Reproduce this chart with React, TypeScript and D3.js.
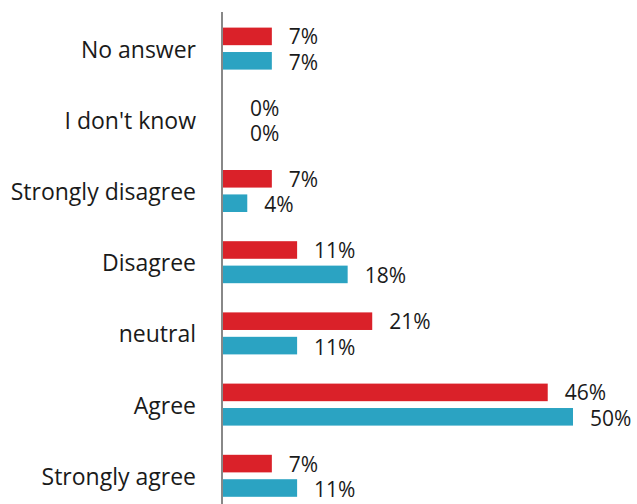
import React from "react";
import * as d3 from "d3";

const categories = ["No answer", "I don't know", "Strongly disagree", "Disagree", "neutral", "Agree", "Strongly agree"];
const seriesRed = [7.1, 0, 7.1, 10.7, 21.4, 46.4, 7.1];
const seriesBlue = [7.1, 0, 3.6, 17.9, 10.7, 50, 10.7];
const labelsRed = ["7%", "0%", "7%", "11%", "21%", "46%", "7%"];
const labelsBlue = ["7%", "0%", "4%", "18%", "11%", "50%", "11%"];

const W = 637;
const H = 504;
const RED = "#DA2129";
const BLUE = "#2BA3C2";
const FONT = "'Open Sans', 'Liberation Sans', sans-serif";

export default function App() {
  const axisX = 222;
  const y = d3.scaleBand<string>().domain(categories).range([13, 13 + 71.2 * 7]);
  const x = d3.scaleLinear().domain([0, 50]).range([axisX, 573]);
  const inner = d3.scaleBand<string>().domain(["r", "b"]).range([0, 42]).paddingInner(0.28);
  const groupOffset = (y.bandwidth() - 42) / 2;

  const series = [
    { key: "r", vals: seriesRed, labels: labelsRed, color: RED, dy: 0 },
    { key: "b", vals: seriesBlue, labels: labelsBlue, color: BLUE, dy: 1 },
  ];

  return (
    <svg width={W} height={H} style={{ position: "absolute", left: 0, top: 0, background: "#fff" }} fontFamily={FONT}>
      {categories.map((c) => (
        <text key={c} x={196} y={(y(c) as number) + y.bandwidth() / 2} textAnchor="end" dominantBaseline="central" fontSize={23} fill="#1a1a1a">
          {c}
        </text>
      ))}
      {series.map((s) =>
        categories.map((c, i) => {
          const top = (y(c) as number) + groupOffset + (inner(s.key) as number);
          const bw = inner.bandwidth();
          const v = s.vals[i];
          const end = x(v);
          return (
            <g key={s.key + c}>
              {v > 0 && <rect x={axisX} y={top} width={end - axisX} height={bw} fill={s.color} />}
              <text x={end + (v === 0 ? 28 : 17)} y={top + bw / 2 + s.dy} dominantBaseline="central" fontSize={21} fill="#1a1a1a">
                {s.labels[i]}
              </text>
            </g>
          );
        })
      )}
      <line x1={axisX} x2={axisX} y1={12} y2={H} stroke="#888" strokeWidth={2} />
    </svg>
  );
}
